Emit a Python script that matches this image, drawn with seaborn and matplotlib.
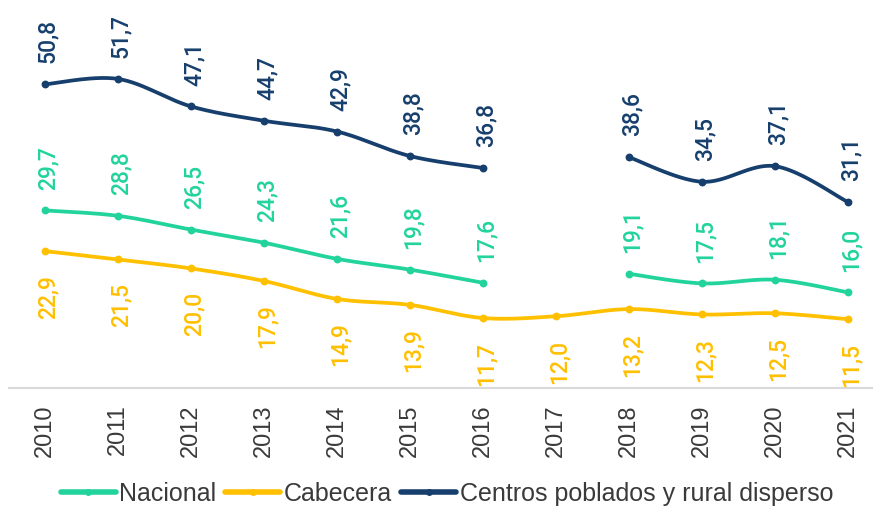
import numpy as np
import pandas as pd
import matplotlib
matplotlib.use("Agg")
import matplotlib.pyplot as plt
import seaborn as sns

years = ["2010", "2011", "2012", "2013", "2014", "2015", "2016", "2017", "2018", "2019", "2020", "2021"]
nacional = [29.7, 28.8, 26.5, 24.3, 21.6, 19.8, 17.6, np.nan, 19.1, 17.5, 18.1, 16.0]
cabecera = [22.9, 21.5, 20.0, 17.9, 14.9, 13.9, 11.7, 12.0, 13.2, 12.3, 12.5, 11.5]
centros = [50.8, 51.7, 47.1, 44.7, 42.9, 38.8, 36.8, np.nan, 38.6, 34.5, 37.1, 31.1]

series_names = ["Nacional", "Cabecera", "Centros poblados y rural disperso"]
series_values = [nacional, cabecera, centros]
colors = ["#22D39C", "#FFC000", "#173F6D"]
label_above = [True, False, True]

sns.set_theme(style="white")
plt.rcParams["font.family"] = ["Liberation Sans", "DejaVu Sans"]

fig = plt.figure(figsize=(8.73, 5.07), dpi=100)
ax = fig.add_axes([8.5 / 873, 1 - 388 / 507, 876 / 873, 388 / 507])


def smooth_segment(xs, ys, n=30):
    xs = np.asarray(xs, float)
    ys = np.asarray(ys, float)
    pts = np.column_stack([xs, ys])
    out = []
    m = len(pts)
    if m == 1:
        return xs, ys
    for i in range(m - 1):
        p0 = pts[i - 1] if i > 0 else pts[i]
        p1 = pts[i]
        p2 = pts[i + 1]
        p3 = pts[i + 2] if i + 2 < m else pts[i + 1]
        c1 = p1 + (p2 - p0) / 6.0
        c2 = p2 - (p3 - p1) / 6.0
        t = np.linspace(0, 1, n)[:, None]
        b = ((1 - t) ** 3) * p1 + 3 * ((1 - t) ** 2) * t * c1 + 3 * (1 - t) * t ** 2 * c2 + t ** 3 * p2
        if i > 0:
            b = b[1:]
        out.append(b)
    out = np.vstack(out)
    return out[:, 0], out[:, 1]


xpos = np.arange(len(years))
for name, vals, col, above in zip(series_names, series_values, colors, label_above):
    vals = np.asarray(vals, float)
    valid = ~np.isnan(vals)
    runs = []
    cur = []
    for i, v in enumerate(valid):
        if v:
            cur.append(i)
        elif cur:
            runs.append(cur)
            cur = []
    if cur:
        runs.append(cur)
    for r in runs:
        sx, sy = smooth_segment(xpos[r], vals[r])
        sns.lineplot(x=sx, y=sy, sort=False, estimator=None, color=col, linewidth=2.7, ax=ax)
    df = pd.DataFrame({"x": xpos[valid], "y": vals[valid]})
    sns.scatterplot(data=df, x="x", y="y", color=col, s=32, edgecolor=col, linewidth=0, ax=ax, zorder=3)
    for x, y in zip(df["x"], df["y"]):
        txt = f"{y:.1f}".replace(".", ",")
        if above:
            ax.annotate(txt, (x, y), xytext=(2, 15), textcoords="offset points",
                        rotation=90, ha="center", va="bottom", color=col,
                        fontsize=16.5, fontweight="medium", family=["Roboto", "DejaVu Sans"])
        else:
            ax.annotate(txt, (x, y), xytext=(2, -17), textcoords="offset points",
                        rotation=90, ha="center", va="top", color=col,
                        fontsize=16.5, fontweight="medium", family=["Roboto", "DejaVu Sans"])

ax.set_xlim(-0.5, 11.5)
ax.set_ylim(0, 64.9)
ax.set_xticks(xpos)
ax.set_xticklabels(years, rotation=90, fontsize=17, color="#3A3A3A")
ax.tick_params(axis="x", length=0, pad=12)
ax.set_yticks([])
ax.set_xlabel("")
ax.set_ylabel("")
for s in ["top", "right", "left"]:
    ax.spines[s].set_visible(False)
ax.spines["bottom"].set_color("#D9D9D9")
ax.spines["bottom"].set_linewidth(1.5)

from matplotlib.lines import Line2D
handles = [Line2D([0], [0], color=c, lw=4, marker="o", markersize=4) for c in colors]
leg = fig.legend(handles, series_names, loc="center", bbox_to_anchor=(0.512, 1 - 494 / 507),
                 ncol=3, frameon=False, fontsize=18, handlelength=2.2, handletextpad=0.15,
                 columnspacing=0.35, borderaxespad=0)
for t in leg.get_texts():
    t.set_color("#3A3A3A")

fig.savefig("out.png", dpi=100)
